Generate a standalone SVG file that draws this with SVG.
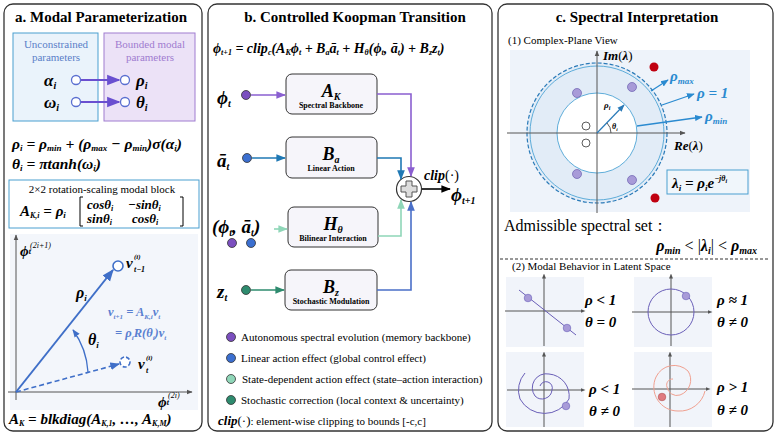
<svg xmlns="http://www.w3.org/2000/svg" width="777" height="437" viewBox="0 0 777 437" font-family="'Liberation Serif','DejaVu Serif',serif">
<style>
.panel{fill:#fff;stroke:#333;stroke-width:1.3}
.title{font-family:'Liberation Serif','DejaVu Serif',serif;font-weight:bold;font-size:15px;text-anchor:middle}
.m{font-family:'Liberation Serif','DejaVu Serif',serif;font-weight:bold;font-style:italic}
.t{font-family:'Liberation Serif','DejaVu Serif',serif}
.box{fill:#f6f5fa;stroke:#333;stroke-width:1}
.sub{font-family:'Liberation Serif','DejaVu Serif',serif;font-weight:bold;font-size:8px;text-anchor:middle}
.ax{stroke:#555;stroke-width:1;fill:none}
</style>
<defs>
<marker id="ah" viewBox="0 0 10 10" refX="9" refY="5" markerWidth="6" markerHeight="6" orient="auto-start-reverse"><path d="M0,1L10,5L0,9z" fill="context-stroke"/></marker>
<marker id="sa" viewBox="0 0 10 10" refX="5" refY="5" markerWidth="5" markerHeight="5" orient="auto"><path d="M0,1L10,5L0,9z" fill="context-stroke"/></marker>
</defs>

<g id="panel-a">
<rect class="panel" x="4" y="4" width="198" height="427" rx="9"/>
<text class="title" x="101" y="22">a. Modal Parameterization</text>
<rect x="13" y="33" width="85" height="88" fill="#eaf3fb" stroke="#4a9fd0"/>
<rect x="104" y="33" width="91" height="88" fill="#ece2f7" stroke="#a07cd0"/>
<text class="t" x="56" y="48" font-size="11" fill="#5a7fc8" text-anchor="middle">Unconstrained</text>
<text class="t" x="56" y="61" font-size="11" fill="#5a7fc8" text-anchor="middle">parameters</text>
<text class="t" x="150" y="48" font-size="11" fill="#a07cd0" text-anchor="middle">Bounded modal</text>
<text class="t" x="150" y="61" font-size="11" fill="#a07cd0" text-anchor="middle">parameters</text>
<text class="m" x="44" y="86" font-size="17">α<tspan font-size="10" dy="3">i</tspan></text>
<text class="m" x="44" y="108" font-size="17">ω<tspan font-size="10" dy="3">i</tspan></text>
<text class="m" x="136" y="86" font-size="17">ρ<tspan font-size="10" dy="3">i</tspan></text>
<text class="m" x="136" y="108" font-size="17">θ<tspan font-size="10" dy="3">i</tspan></text>
<g fill="#fff" stroke="#5a6fd0" stroke-width="1.3"><circle cx="76" cy="80" r="4.5"/><circle cx="76" cy="102" r="4.5"/><circle cx="125" cy="80" r="4.5"/><circle cx="125" cy="102" r="4.5"/></g>
<g stroke="#6a4fd0" stroke-width="2.2" marker-end="url(#ah)"><line x1="81" y1="80" x2="119" y2="80"/><line x1="81" y1="102" x2="119" y2="102"/></g>
<text class="m" x="12" y="149" font-size="15.5">ρ<tspan font-size="9" dy="2">i</tspan><tspan dy="-2"> = ρ</tspan><tspan font-size="9" dy="2">min</tspan><tspan dy="-2"> + (ρ</tspan><tspan font-size="9" dy="2">max</tspan><tspan dy="-2"> − ρ</tspan><tspan font-size="9" dy="2">min</tspan><tspan dy="-2">)σ(α</tspan><tspan font-size="9" dy="2">i</tspan><tspan dy="-2">)</tspan></text>
<text class="m" x="12" y="169" font-size="15.5">θ<tspan font-size="9" dy="2">i</tspan><tspan dy="-2"> = πtanh(ω</tspan><tspan font-size="9" dy="2">i</tspan><tspan dy="-2">)</tspan></text>
<rect x="9" y="180" width="190" height="48" fill="#fff" stroke="#4a9fd0"/>
<text class="t" x="102" y="193" font-size="11" text-anchor="middle">2×2 rotation-scaling modal block</text>
<text class="m" x="20" y="216" font-size="15">A<tspan font-size="8" dy="2">K,i</tspan><tspan dy="-2"> = ρ</tspan><tspan font-size="9" dy="2">i</tspan></text>
<path d="M83,197h-3v29h3M180,197h3v29h-3" fill="none" stroke="#000" stroke-width="1"/>
<text class="m" x="87" y="209" font-size="13">cosθ<tspan font-size="8" dy="2">i</tspan></text>
<text class="m" x="128" y="209" font-size="13">−sinθ<tspan font-size="8" dy="2">i</tspan></text>
<text class="m" x="87" y="223" font-size="13">sinθ<tspan font-size="8" dy="2">i</tspan></text>
<text class="m" x="132" y="223" font-size="13">cosθ<tspan font-size="8" dy="2">i</tspan></text>
<rect x="10" y="234" width="188" height="176" fill="#f3f6fb"/>
<line class="ax" x1="16" y1="400" x2="16" y2="235" stroke="#222" marker-end="url(#ah)"/>
<line class="ax" x1="8" y1="392" x2="192" y2="392" stroke="#222" marker-end="url(#ah)"/>
<text class="m" x="20" y="256" font-size="15">ϕ<tspan font-size="8" dy="-2">t</tspan></text>
<text class="t" x="30" y="248" font-size="8" font-style="italic">(2i+1)</text>
<text class="m" x="158" y="407" font-size="15">ϕ<tspan font-size="8" dy="-2">t</tspan></text>
<text class="t" x="168" y="398" font-size="8" font-style="italic">(2i)</text>
<line x1="16" y1="392" x2="113" y2="270" stroke="#3f6fc8" stroke-width="2" marker-end="url(#ah)"/>
<circle cx="118" cy="266" r="5" fill="#fff" stroke="#3f6fc8" stroke-width="1.6"/>
<line x1="16" y1="392" x2="119" y2="364" stroke="#3f6fc8" stroke-width="1.6" stroke-dasharray="5,3" marker-end="url(#ah)"/>
<circle cx="125" cy="362" r="5" fill="#fff" stroke="#3f6fc8" stroke-width="1.6" stroke-dasharray="4,2"/>
<path d="M88,372 A80,80 0 0 0 73,330" fill="none" stroke="#3f6fc8" stroke-width="1.3" marker-end="url(#ah)"/>
<text class="m" x="76" y="298" font-size="16">ρ<tspan font-size="9" dy="3">i</tspan></text>
<text class="m" x="88" y="345" font-size="16">θ<tspan font-size="9" dy="3">i</tspan></text>
<text class="m" x="126" y="268" font-size="15">v</text><text class="m" x="134" y="259" font-size="7">(i)</text><text class="m" x="134" y="272" font-size="8">t−1</text>
<text class="m" x="138" y="369" font-size="15">v</text><text class="m" x="146" y="360" font-size="7">(i)</text><text class="m" x="146" y="373" font-size="8">t</text>
<text class="m" x="108" y="316" font-size="12.5" fill="#5a7fd0">v<tspan font-size="7" dy="3">t+1</tspan><tspan dy="-3"> = A</tspan><tspan font-size="7" dy="3">K,i</tspan><tspan dy="-3">v</tspan><tspan font-size="7" dy="3">t</tspan></text>
<text class="m" x="115" y="337" font-size="12.5" fill="#5a7fd0">= ρ<tspan font-size="7" dy="3">i</tspan><tspan dy="-3">R(θ</tspan><tspan font-size="7" dy="3">i</tspan><tspan dy="-3">)v</tspan><tspan font-size="7" dy="3">t</tspan></text>
<text class="m" x="9" y="424" font-size="15">A<tspan font-size="8" dy="2">K</tspan><tspan dy="-2"> = blkdiag(A</tspan><tspan font-size="8" dy="2">K,1</tspan><tspan dy="-2">, …, A</tspan><tspan font-size="8" dy="2">K,M</tspan><tspan dy="-2">)</tspan></text>
</g>

<g id="panel-b">
<rect class="panel" x="208" y="4" width="284" height="427" rx="9"/>
<text class="title" x="355" y="22">b. Controlled Koopman Transition</text>
<text class="m" x="213" y="53" font-size="14">ϕ<tspan font-size="8" dy="2">t+1</tspan><tspan dy="-2"> = clip</tspan><tspan font-size="8" dy="2">c</tspan><tspan dy="-2">(A</tspan><tspan font-size="8" dy="2">K</tspan><tspan dy="-2">ϕ</tspan><tspan font-size="8" dy="2">t</tspan><tspan dy="-2"> + B</tspan><tspan font-size="8" dy="2">a</tspan><tspan dy="-2">ā</tspan><tspan font-size="8" dy="2">t</tspan><tspan dy="-2"> + H</tspan><tspan font-size="8" dy="2">θ</tspan><tspan dy="-2">(ϕ</tspan><tspan font-size="8" dy="2">t</tspan><tspan dy="-2">, ā</tspan><tspan font-size="8" dy="2">t</tspan><tspan dy="-2">) + B</tspan><tspan font-size="8" dy="2">z</tspan><tspan dy="-2">z</tspan><tspan font-size="8" dy="2">t</tspan><tspan dy="-2">)</tspan></text>
<g id="node-AK"><rect class="box" x="286" y="74" width="91" height="40" rx="6"/><text class="m" x="331" y="97" font-size="18" text-anchor="middle">A<tspan font-size="10" dy="3">K</tspan></text><text class="sub" x="331" y="108">Spectral Backbone</text></g>
<g id="node-Ba"><rect class="box" x="286" y="137" width="91" height="41" rx="6"/><text class="m" x="331" y="160" font-size="18" text-anchor="middle">B<tspan font-size="10" dy="3">a</tspan></text><text class="sub" x="331" y="171">Linear Action</text></g>
<g id="node-H"><rect class="box" x="288" y="207" width="90" height="40" rx="6"/><text class="m" x="333" y="230" font-size="18" text-anchor="middle">H<tspan font-size="10" dy="3">θ</tspan></text><text class="sub" x="333" y="241">Bilinear Interaction</text></g>
<g id="node-Bz"><rect class="box" x="285" y="270" width="92" height="40" rx="6"/><text class="m" x="331" y="293" font-size="18" text-anchor="middle">B<tspan font-size="10" dy="3">z</tspan></text><text class="sub" x="331" y="304">Stochastic Modulation</text></g>
<g id="node-sum"><circle cx="409" cy="189" r="12.5" fill="#fff" stroke="#333" stroke-width="1.2"/><path d="M406,181h6v5h5v6h-5v5h-6v-5h-5v-6h5z" fill="#ddd" stroke="#555" stroke-width="1"/></g>
<text class="m" x="217" y="104" font-size="19">ϕ<tspan font-size="10" dy="3">t</tspan></text>
<text class="m" x="217" y="167" font-size="19">ā<tspan font-size="10" dy="3">t</tspan></text>
<text class="m" x="212" y="233" font-size="19">(ϕ<tspan font-size="10" dy="3">t</tspan><tspan dy="-3">, ā</tspan><tspan font-size="10" dy="3">t</tspan><tspan dy="-3">)</tspan></text>
<text class="m" x="217" y="298" font-size="19">z<tspan font-size="10" dy="3">t</tspan></text>
<g stroke="#333" stroke-width="0.8"><circle cx="246" cy="95" r="4.5" fill="#7b4fbf"/><circle cx="247" cy="158" r="4.5" fill="#3b6fd0"/><circle cx="232" cy="243" r="4.5" fill="#7b4fbf"/><circle cx="251" cy="243" r="4.5" fill="#3b6fd0"/><circle cx="246" cy="290" r="4.5" fill="#2e8b6e"/></g>
<g id="connectors" fill="none" stroke-width="1.6">
<line x1="251" y1="95" x2="285" y2="95" stroke="#8a5fd0" marker-end="url(#ah)"/>
<line x1="252" y1="158" x2="285" y2="158" stroke="#1f78b4" marker-end="url(#ah)"/>
<line x1="274" y1="229" x2="287" y2="229" stroke="#8fd6b8" marker-end="url(#ah)"/>
<line x1="251" y1="290" x2="284" y2="290" stroke="#2e8b6e" marker-end="url(#ah)"/>
<path d="M377,94H411V176" stroke="#8a5fd0" marker-end="url(#ah)"/>
<path d="M377,158H401V179" stroke="#1f78b4" marker-end="url(#ah)"/>
<path d="M378,236H401V200" stroke="#8fd6b8" marker-end="url(#ah)"/>
<path d="M377,290H411V202" stroke="#4a6fc8" marker-end="url(#ah)"/>
<line x1="422" y1="189" x2="450" y2="189" stroke="#000" marker-end="url(#ah)"/>
</g>
<text class="m" x="424" y="180" font-size="14">clip<tspan font-style="normal" font-weight="normal">(·)</tspan></text>
<text class="m" x="451" y="201" font-size="19">ϕ<tspan font-size="10" dy="3">t+1</tspan></text>
<g stroke="#333" stroke-width="0.8"><circle cx="231" cy="337" r="4.5" fill="#7b4fbf"/><circle cx="231" cy="358" r="4.5" fill="#3b6fd0"/><circle cx="231" cy="379" r="4.5" fill="#8fd6b8"/><circle cx="231" cy="400" r="4.5" fill="#2e8b6e"/></g>
<g class="t" font-size="11"><text x="241" y="341">Autonomous spectral evolution (memory backbone)</text><text x="241" y="362">Linear action effect (global control effect)</text><text x="242" y="383">State-dependent action effect (state–action interaction)</text><text x="241" y="404">Stochastic correction (local context &amp; uncertainty)</text></g>
<text class="m" x="218" y="425" font-size="13">clip<tspan font-style="normal" font-weight="normal">(·)</tspan><tspan font-size="11" font-style="normal" font-weight="normal">: element-wise clipping to bounds [-c,c]</tspan></text>
</g>

<g id="panel-c">
<rect class="panel" x="498" y="4" width="275" height="427" rx="9"/>
<text class="title" x="637" y="22">c. Spectral Interpretation</text>
<text class="t" x="508" y="44" font-size="11">(1) Complex-Plane View</text>
<rect x="510" y="50" width="240" height="162" fill="#eef3fa"/>
<circle cx="597" cy="133" r="70" fill="#e2ecf7" stroke="#2a7ab8" stroke-width="1.2" stroke-dasharray="4,2"/>
<circle cx="597" cy="133" r="67" fill="#e2ecf7" stroke="#3a9ad0" stroke-width="0.8"/>
<circle cx="597" cy="133" r="40" fill="#fff" stroke="#3a9ad0" stroke-width="0.8"/>
<line class="ax" x1="597" y1="213" x2="597" y2="51" stroke="#333" marker-end="url(#ah)"/>
<line class="ax" x1="507" y1="133" x2="685" y2="133" stroke="#333" marker-end="url(#ah)"/>
<text class="m" x="603" y="60" font-size="13">Im<tspan font-weight="normal" font-style="normal">(</tspan>λ<tspan font-weight="normal" font-style="normal">)</tspan></text>
<text class="m" x="674" y="150" font-size="13">Re<tspan font-weight="normal" font-style="normal">(</tspan>λ<tspan font-weight="normal" font-style="normal">)</tspan></text>
<line x1="597" y1="133" x2="624" y2="105" stroke="#2a7ab8" stroke-width="1.2" marker-end="url(#ah)"/>
<path d="M611,133 A14,14 0 0 0 607,123" fill="none" stroke="#333" stroke-width="0.8"/>
<text class="m" x="604" y="108" font-size="9">ρ<tspan font-size="6" dy="2">i</tspan></text>
<text class="m" x="612" y="129" font-size="8">θ<tspan font-size="5" dy="2">i</tspan></text>
<g stroke="#6a5fb0" stroke-width="0.7" fill="#a89bd8"><circle cx="577" cy="93" r="4.5"/><circle cx="632" cy="87" r="4.5"/><circle cx="577" cy="174" r="4.5"/><circle cx="632" cy="180" r="4.5"/></g>
<g stroke="#333" stroke-width="0.8" fill="#fff"><circle cx="586" cy="126" r="4"/><circle cx="586" cy="143" r="4"/></g>
<g fill="#c00010"><circle cx="654" cy="67" r="4.5"/><circle cx="655" cy="198" r="4.5"/></g>
<g stroke="#2a8ad0" stroke-width="1.3" fill="none" marker-end="url(#ah)"><line x1="651" y1="91" x2="668" y2="80"/><line x1="662" y1="105" x2="694" y2="94"/><line x1="637" y1="126" x2="702" y2="117"/></g>
<g class="m" fill="#2a8ad0" font-size="15"><text x="670" y="81">ρ<tspan font-size="9" dy="3">max</tspan></text><text x="697" y="98">ρ = 1</text><text x="705" y="121">ρ<tspan font-size="9" dy="3">min</tspan></text></g>
<rect x="667" y="170" width="81" height="24" fill="#f0f6fb" stroke="#4a9fd0"/>
<text class="m" x="672" y="188" font-size="15">λ<tspan font-size="9" dy="3">i</tspan><tspan dy="-3"> = ρ</tspan><tspan font-size="9" dy="3">i</tspan><tspan dy="-3">e</tspan><tspan font-size="8" dy="-7">−jθ</tspan><tspan font-size="6" dy="2">i</tspan></text>
<text class="t" x="504" y="231" font-size="16">Admissible spectral set：</text>
<text class="m" x="757" y="251" font-size="16" text-anchor="end">ρ<tspan font-size="10" dy="3">min</tspan><tspan dy="-3" font-weight="normal" font-style="normal"> &lt; |</tspan>λ<tspan font-size="10" dy="3">i</tspan><tspan dy="-3" font-weight="normal" font-style="normal">| &lt; </tspan>ρ<tspan font-size="10" dy="3">max</tspan></text>
<line x1="500" y1="259" x2="770" y2="259" stroke="#333" stroke-dasharray="3,2"/>
<text class="t" x="512" y="270" font-size="11">(2) Modal Behavior in Latent Space</text>
<g fill="#f1f4fa"><rect x="506" y="277" width="78" height="70"/><rect x="634" y="277" width="78" height="70"/><rect x="506" y="352" width="78" height="75"/><rect x="634" y="352" width="78" height="75"/></g>
<g class="ax" stroke="#666" marker-end="url(#sa)">
<line x1="544" y1="346" x2="544" y2="276"/><line x1="505" y1="311" x2="583" y2="311"/>
<line x1="671" y1="346" x2="671" y2="276"/><line x1="632" y1="312" x2="710" y2="312"/>
<line x1="544" y1="427" x2="544" y2="354"/><line x1="507" y1="390" x2="583" y2="390"/>
<line x1="670" y1="427" x2="670" y2="354"/><line x1="632" y1="389" x2="708" y2="389"/>
</g>
<g fill="none" stroke="#6a5fb8" stroke-width="1">
<line x1="519" y1="290" x2="576" y2="335"/>
<circle cx="671" cy="312" r="23"/>
<path d="M544,390 m-4,-4 a6,6 0 0 1 12,4 a10,10 0 0 1 -17,6 a14,14 0 0 1 14,-22 a22,22 0 0 1 20,25 a28,28 0 0 1 -49,0 a26,26 0 0 1 5,-26"/>
</g>
<path d="M670,389 m3,-10 a6,6 0 0 0 -6,8 a10,10 0 0 0 13,8 a16,16 0 0 0 8,-24 a20,20 0 0 0 -32,6 a24,24 0 0 0 22,34 a26,26 0 0 0 27,-20" fill="none" stroke="#f0a090" stroke-width="1"/>
<g fill="#a89bd8" stroke="#6a5fb8" stroke-width="0.6"><circle cx="528" cy="298" r="3.8"/><circle cx="567" cy="328" r="3.8"/><circle cx="686" cy="296" r="3.8"/><circle cx="566" cy="406" r="3.8"/></g>
<circle cx="662" cy="397" r="3.8" fill="#e07a80" stroke="#b05050" stroke-width="0.6"/>
<g class="m" font-size="15">
<text x="585" y="305">ρ &lt; 1</text><text x="585" y="327">θ = 0</text>
<text x="717" y="305">ρ ≈ 1</text><text x="717" y="327">θ ≠ 0</text>
<text x="589" y="394">ρ &lt; 1</text><text x="589" y="416">θ ≠ 0</text>
<text x="717" y="392">ρ &gt; 1</text><text x="717" y="415">θ ≠ 0</text>
</g>
</g>
</svg>
